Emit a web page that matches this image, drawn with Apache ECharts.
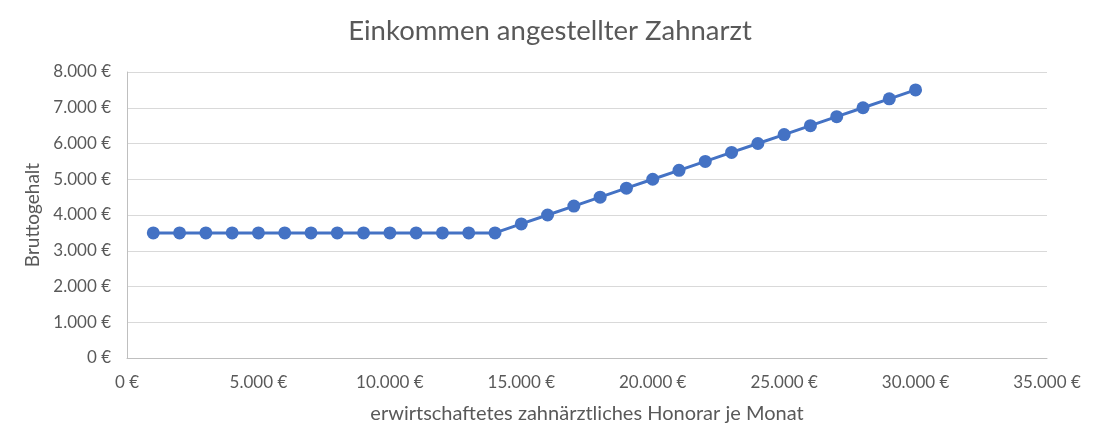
<!DOCTYPE html>
<html><head><meta charset="utf-8">
<script src="https://cdn.jsdelivr.net/npm/echarts@6/dist/echarts.min.js"></script>
<style>html,body{margin:0;padding:0;background:#fff}#c{width:1100px;height:444px}</style>
</head><body><div id="c"></div>
<script>
const title = 'Einkommen angestellter Zahnarzt';
const xName = 'erwirtschaftetes zahnärztliches Honorar je Monat';
const yName = 'Bruttogehalt';
const honorar = [1000,2000,3000,4000,5000,6000,7000,8000,9000,10000,11000,12000,13000,14000,15000,16000,17000,18000,19000,20000,21000,22000,23000,24000,25000,26000,27000,28000,29000,30000];
const gehalt = [3500,3500,3500,3500,3500,3500,3500,3500,3500,3500,3500,3500,3500,3500,3750,4000,4250,4500,4750,5000,5250,5500,5750,6000,6250,6500,6750,7000,7250,7500];

function fmt(v){ return String(v).replace(/\B(?=(\d{3})+(?!\d))/g,'.') + ' €'; }
const font = 'Lato, Open Sans, sans-serif';
const chart = echarts.init(document.getElementById('c'));
chart.setOption({
  animation:false,
  title:{text:title,left:'center',top:12,textStyle:{fontFamily:font,fontSize:27.5,fontWeight:'normal',color:'#595959'}},
  grid:{left:127,right:53,top:72,bottom:86,containLabel:false},
  xAxis:{type:'value',min:0,max:35000,interval:5000,
    name:xName,nameLocation:'middle',nameGap:46,
    nameTextStyle:{fontFamily:font,fontSize:20,color:'#595959'},
    axisLine:{show:true,lineStyle:{color:'#bfbfbf',width:1}},
    axisTick:{show:false},splitLine:{show:false},
    axisLabel:{formatter:fmt,fontFamily:font,fontSize:17,color:'#595959',margin:16}},
  yAxis:{type:'value',min:0,max:8000,interval:1000,
    name:yName,nameLocation:'middle',nameGap:85,
    nameTextStyle:{fontFamily:font,fontSize:19,color:'#595959'},
    axisLine:{show:true,lineStyle:{color:'#bfbfbf',width:1}},
    axisTick:{show:false},
    splitLine:{show:true,lineStyle:{color:'#d9d9d9',width:1}},
    axisLabel:{formatter:fmt,fontFamily:font,fontSize:17,color:'#595959',margin:16}},
  series:[{type:'line',data:honorar.map((x,i)=>[x,gehalt[i]]),
    symbol:'circle',symbolSize:13,
    lineStyle:{color:'#4472c4',width:3},
    itemStyle:{color:'#4472c4'}}]
});
</script></body></html>
